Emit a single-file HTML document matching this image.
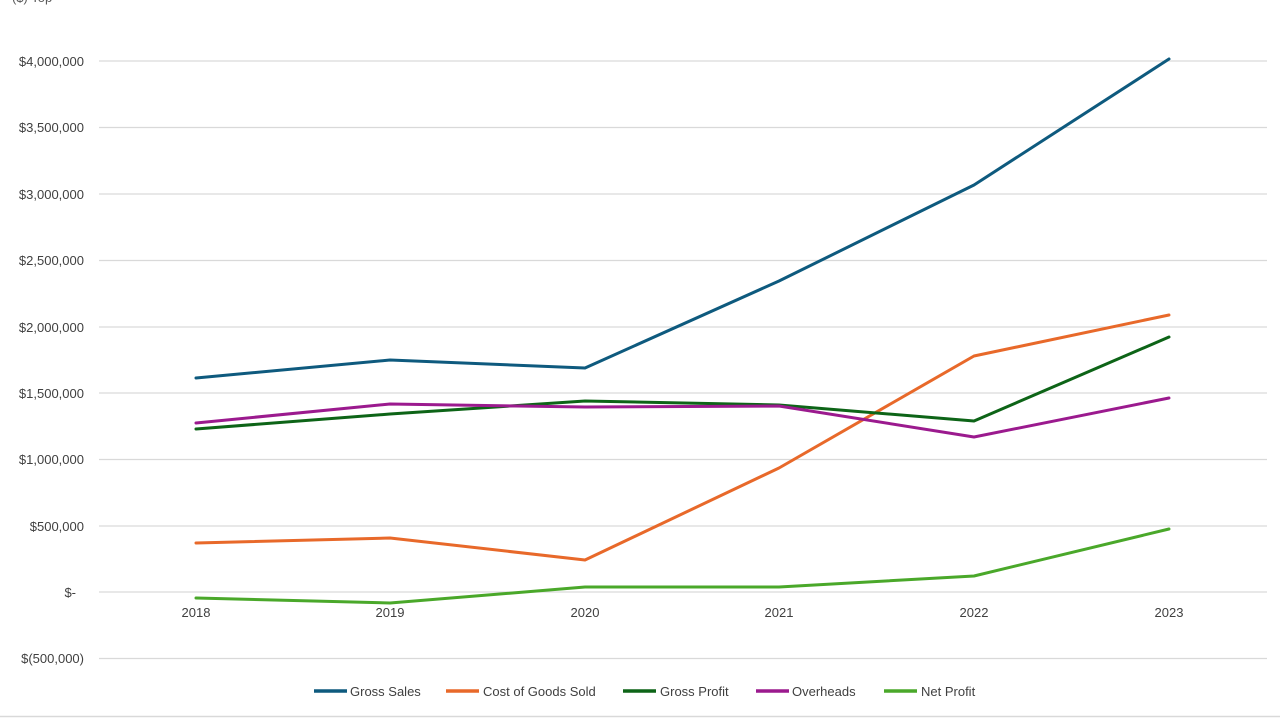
<!DOCTYPE html>
<html><head><meta charset="utf-8"><style>
html,body{margin:0;padding:0;background:#fff;}
svg{display:block;font-family:"Liberation Sans",sans-serif;}
</style></head><body>
<svg width="1280" height="720" viewBox="0 0 1280 720" xmlns="http://www.w3.org/2000/svg">
<rect width="1280" height="720" fill="#fff"/>
<text x="12" y="2" font-size="13" fill="#595959">($) Top</text>
<g stroke="#d9d9d9" stroke-width="1.3">
<line x1="99" x2="1267" y1="61" y2="61"/>
<line x1="99" x2="1267" y1="127.5" y2="127.5"/>
<line x1="99" x2="1267" y1="194" y2="194"/>
<line x1="99" x2="1267" y1="260.5" y2="260.5"/>
<line x1="99" x2="1267" y1="327" y2="327"/>
<line x1="99" x2="1267" y1="393" y2="393"/>
<line x1="99" x2="1267" y1="459.5" y2="459.5"/>
<line x1="99" x2="1267" y1="526" y2="526"/>
<line x1="99" x2="1267" y1="592" y2="592"/>
<line x1="99" x2="1267" y1="658.5" y2="658.5"/>
</g>
<line x1="0" x2="1280" y1="716.5" y2="716.5" stroke="#d9d9d9" stroke-width="1.5"/>
<g font-size="13" fill="#404040" text-anchor="end">
<text x="84" y="66">$4,000,000</text>
<text x="84" y="132">$3,500,000</text>
<text x="84" y="199">$3,000,000</text>
<text x="84" y="265">$2,500,000</text>
<text x="84" y="332">$2,000,000</text>
<text x="84" y="398">$1,500,000</text>
<text x="84" y="464">$1,000,000</text>
<text x="84" y="531">$500,000</text>
<text x="76" y="597">$-</text>
<text x="84" y="663">$(500,000)</text>
</g>
<g font-size="13" fill="#404040" text-anchor="middle">
<text x="196" y="617">2018</text>
<text x="390" y="617">2019</text>
<text x="585" y="617">2020</text>
<text x="779" y="617">2021</text>
<text x="974" y="617">2022</text>
<text x="1169" y="617">2023</text>
</g>
<g fill="none" stroke-width="3" stroke-linejoin="round" stroke-linecap="round">
<polyline stroke="#0e5a7e" points="196,378 390,360 585,368 779,281 974,185 1169,59"/>
<polyline stroke="#e8692a" points="196,543 390,538 585,560 779,468 974,356 1169,315"/>
<polyline stroke="#0d6417" points="196,429 390,414 585,401 779,405 974,421 1169,337"/>
<polyline stroke="#9b1a8e" points="196,423 390,404 585,407 779,406 974,437 1169,398"/>
<polyline stroke="#4aa82a" points="196,598 390,603 585,587 779,587 974,576 1169,529"/>
</g>
<g stroke-width="3.5">
<line x1="314" x2="347" y1="691" y2="691" stroke="#0e5a7e"/>
<line x1="446" x2="479" y1="691" y2="691" stroke="#e8692a"/>
<line x1="623" x2="656" y1="691" y2="691" stroke="#0d6417"/>
<line x1="756" x2="789" y1="691" y2="691" stroke="#9b1a8e"/>
<line x1="884" x2="917" y1="691" y2="691" stroke="#4aa82a"/>
</g>
<g font-size="13" fill="#404040">
<text x="350" y="696">Gross Sales</text>
<text x="483" y="696">Cost of Goods Sold</text>
<text x="660" y="696">Gross Profit</text>
<text x="792" y="696">Overheads</text>
<text x="921" y="696">Net Profit</text>
</g>
</svg>
</body></html>
